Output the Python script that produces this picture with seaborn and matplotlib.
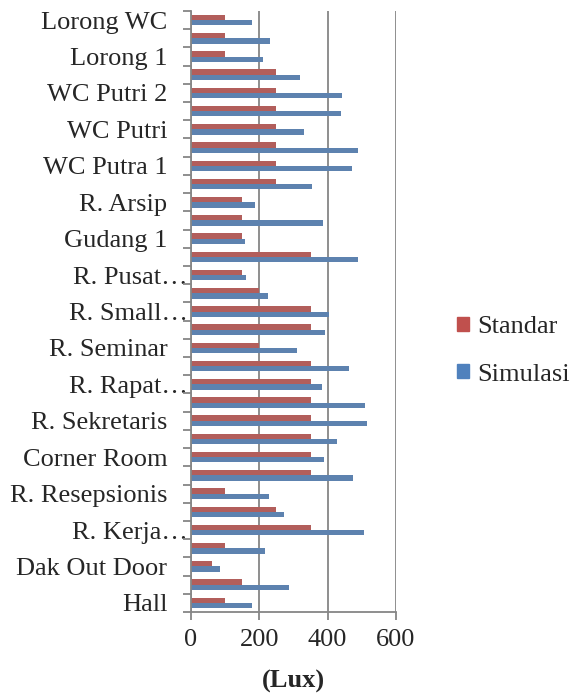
import matplotlib
matplotlib.use("Agg")
import matplotlib.pyplot as plt
import matplotlib.patches as mpatches
import matplotlib.transforms as mtransforms
import seaborn as sns
import pandas as pd
import numpy as np

# Rooms listed from the bottom of the chart (Hall) upwards; blank entries are
# categories whose label is skipped on the axis.
rooms = [
    "Hall", "", "Dak Out Door", "", "R. Kerja\u2026", "", "R. Resepsionis", "",
    "Corner Room", "", "R. Sekretaris", "", "R. Rapat\u2026", "", "R. Seminar", "",
    "R. Small\u2026", "", "R. Pusat\u2026", "", "Gudang 1", "", "R. Arsip", "",
    "WC Putra 1", "", "WC Putri", "", "WC Putri 2", "", "Lorong 1", "", "Lorong WC",
]
standar = [100, 150, 60, 100, 350, 250, 100, 350, 350, 350, 350, 350, 350, 350, 200, 350,
           350, 200, 150, 350, 150, 150, 150, 250, 250, 250, 250, 250, 250, 250, 100, 100, 100]
simulasi = [178, 287, 84, 218, 505, 273, 229, 473, 389, 427, 516, 510, 382, 462, 310, 392,
            405, 225, 160, 488, 158, 385, 187, 355, 472, 488, 330, 439, 441, 320, 212, 230, 178]
series = ["Standar", "Simulasi"]
colors = {"Standar": "#C0504D", "Simulasi": "#4F81BD"}
x_ticks = [0, 200, 400, 600]
x_label = "(Lux)"

ids = [f"k{i:02d}" for i in range(len(rooms))]
df = pd.DataFrame({
    "id": ids * 2,
    "lux": standar + simulasi,
    "seri": ["Standar"] * len(ids) + ["Simulasi"] * len(ids),
})

sns.set_theme(style="white")
plt.rcParams["font.family"] = ["Liberation Serif", "DejaVu Serif"]

fig = plt.figure(figsize=(5.72, 6.97), dpi=100)
ax = fig.add_axes([191 / 572, 1 - 612 / 697, 205 / 572, 601 / 697])

order = ids[::-1]  # top of chart first
sns.barplot(data=df, y="id", x="lux", hue="seri", order=order, hue_order=series,
            palette=colors, orient="h", width=0.58, ax=ax, legend=False,
            edgecolor="none", linewidth=0)

ax.set_xlim(0, 600)
ax.set_ylim(len(ids) - 0.5, -0.5)
ax.set_xticks(x_ticks)
ax.set_xticklabels([str(t) for t in x_ticks], fontsize=19)
ax.set_yticks(range(len(ids)))
ax.set_yticklabels(rooms[::-1], fontsize=19)
ax.set_yticks(np.arange(-0.5, len(ids), 1.0), minor=True)
ax.tick_params(axis="y", which="major", length=0, pad=17)
ax.tick_params(axis="y", which="minor", length=6, width=1.3, color="#868686", direction="out", left=True)
ax.tick_params(axis="x", which="major", length=6, width=1.3, color="#868686", direction="out",
               bottom=True, pad=6)
ax.set_ylabel("")
ax.set_xlabel(x_label, fontsize=19, fontweight="bold", labelpad=14)

# truncated names run closer to the axis line
shift = mtransforms.ScaledTranslation(20 / 100, 0, fig.dpi_scale_trans)
for lbl in ax.get_yticklabels():
    if lbl.get_text().endswith("\u2026"):
        lbl.set_transform(lbl.get_transform() + shift)

ax.xaxis.grid(True, color="#868686", linewidth=1.3)
ax.set_axisbelow(True)
for side in ["top", "right"]:
    ax.spines[side].set_visible(False)
for side in ["left", "bottom"]:
    ax.spines[side].set_color("#868686")
    ax.spines[side].set_linewidth(1.3)

handles = [mpatches.Patch(color=colors[s], label=s) for s in series]
fig.legend(handles=handles, loc="center left", bbox_to_anchor=(457 / 572, 1 - 351 / 697),
           frameon=False, fontsize=19, handlelength=0.45, handleheight=0.45,
           handletextpad=0.3, labelspacing=0.95, borderpad=0, borderaxespad=0)

fig.savefig("out.png", dpi=100)
